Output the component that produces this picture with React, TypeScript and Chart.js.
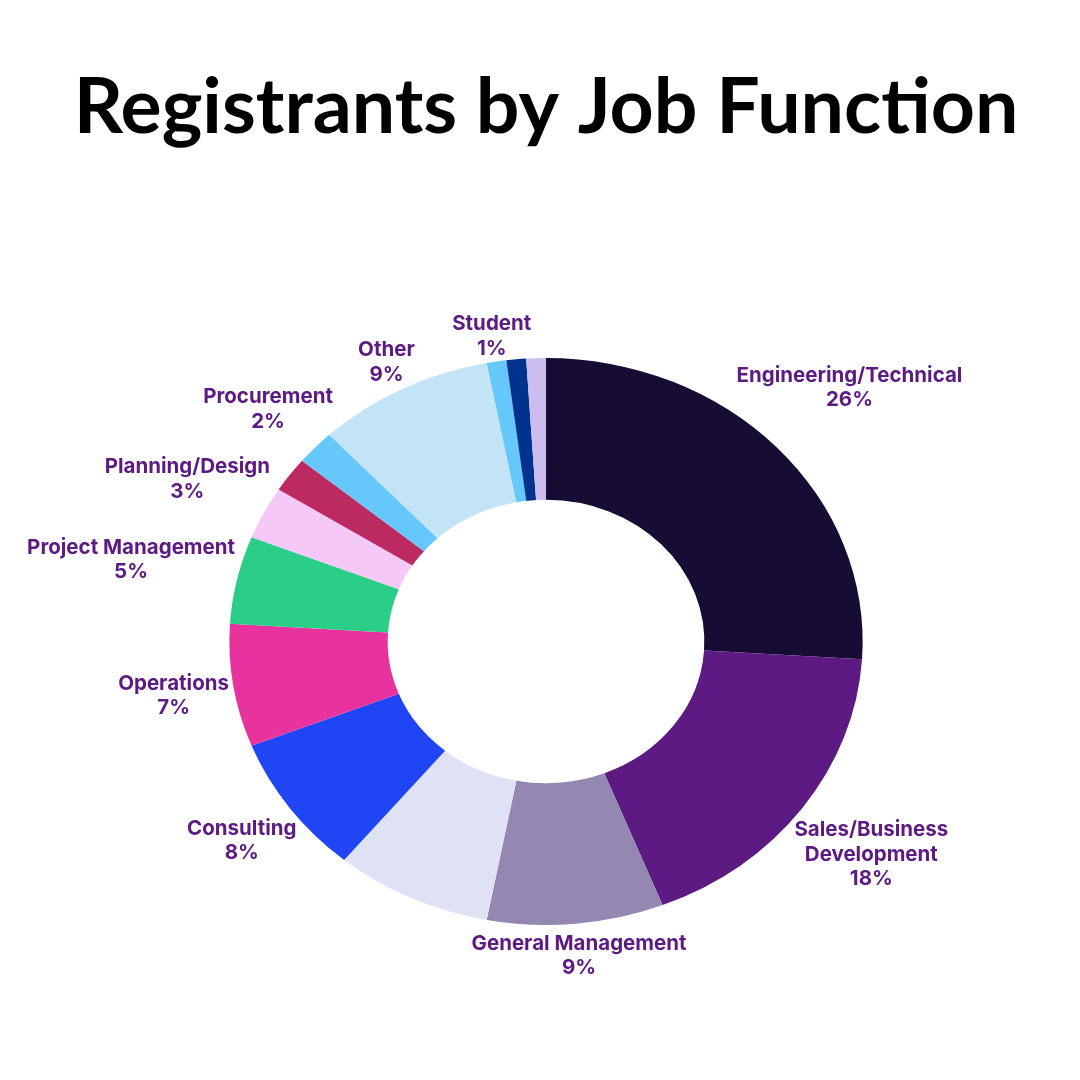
import { useEffect, useRef } from 'react';
import { Chart, registerables } from 'chart.js';

Chart.register(...registerables);

const TITLE = 'Registrants by Job Function';

// clockwise from 12 o'clock; '' = slice without a label in the original
const categories: (string | string[])[] = [
  'Engineering/Technical',
  ['Sales/Business', 'Development'],
  'General Management',
  '',
  'Consulting',
  'Operations',
  'Project Management',
  'Planning/Design',
  '',
  'Procurement',
  'Other',
  'Student',
  '',
  '',
];
const shares = [26, 18, 9, 8, 8, 7, 5, 3, 2, 2, 9, 1, 1, 1];
const sliceColors = [
  '#170c33', '#5c1a82', '#9488b2', '#dfe2f5', '#2045f5', '#e8339e', '#2ace87',
  '#f5c8f8', '#bc2a62', '#66c7fb', '#c2e4f6', '#66c7fb', '#00338d', '#cdbdee',
];

// the donut in the picture is an ellipse, wider than tall
const STRETCH = 1.117;
const LABEL_COLOR = '#5c1a82';
const LABEL_FONT = '700 20.5px Inter';
const LINE_H = 24.5;
const CAP_H = 15;
const GAP = 2;

const ellipsePlugin = {
  id: 'ellipse',
  beforeDatasetsDraw(chart: any) {
    const { ctx } = chart;
    const arc = chart.getDatasetMeta(0).data[0];
    ctx.save();
    if (arc) {
      ctx.translate(arc.x, arc.y);
      ctx.scale(STRETCH, 1);
      ctx.translate(-arc.x, -arc.y);
    }
  },
  afterDatasetsDraw(chart: any) {
    chart.ctx.restore();
  },
};

const labelPlugin = {
  id: 'sliceLabels',
  afterDraw(chart: any) {
    const { ctx, chartArea } = chart;
    ctx.save();

    // title, fitted to the width it has in the picture
    ctx.fillStyle = '#000';
    ctx.textAlign = 'center';
    ctx.textBaseline = 'alphabetic';
    ctx.font = 'bold 100px Lato';
    const size = (100 * 945) / ctx.measureText(TITLE).width;
    ctx.font = `bold ${size}px Lato`;
    ctx.fillText(TITLE, (chartArea.left + chartArea.right) / 2, 133);

    ctx.font = LABEL_FONT;
    ctx.fillStyle = LABEL_COLOR;
    chart.getDatasetMeta(0).data.forEach((el: any, i: number) => {
      const name = categories[i];
      if (!name) return;
      const lines = [...(Array.isArray(name) ? name : [name]), `${shares[i]}%`];
      const { x, y, startAngle, endAngle, outerRadius } = el.getProps(
        ['x', 'y', 'startAngle', 'endAngle', 'outerRadius'],
        true
      );
      const mid = (startAngle + endAngle) / 2;
      const ux = Math.cos(mid);
      const uy = Math.sin(mid);
      const w = Math.max(...lines.map((l) => ctx.measureText(l).width)) / 2;
      const h = ((lines.length - 1) * LINE_H + CAP_H) / 2;
      const d = outerRadius + GAP + (Math.abs(ux) * w) / STRETCH + Math.abs(uy) * h;
      const cx = x + ux * d * STRETCH;
      const cy = y + uy * d;
      const first = cy - h + CAP_H;
      lines.forEach((l, k) => ctx.fillText(l, cx, first + k * LINE_H));
    });
    ctx.restore();
  },
};

export default function App() {
  const canvasRef = useRef<HTMLCanvasElement>(null);

  useEffect(() => {
    if (!canvasRef.current) return;
    const chart = new Chart(canvasRef.current, {
      type: 'doughnut',
      data: {
        labels: categories,
        datasets: [
          {
            data: shares,
            backgroundColor: sliceColors,
            borderWidth: 0,
            clip: false,
          },
        ],
      },
      options: {
        animation: false,
        responsive: true,
        maintainAspectRatio: false,
        events: [],
        cutout: '50%',
        layout: { padding: { left: 262, right: 250, top: 358, bottom: 155 } },
        plugins: {
          legend: { display: false },
          tooltip: { enabled: false },
        },
      },
      plugins: [ellipsePlugin, labelPlugin],
    });
    return () => chart.destroy();
  }, []);

  return (
    <div style={{ position: 'fixed', left: 0, top: 0, width: 1080, height: 1080, background: '#fff' }}>
      <canvas ref={canvasRef} />
    </div>
  );
}
